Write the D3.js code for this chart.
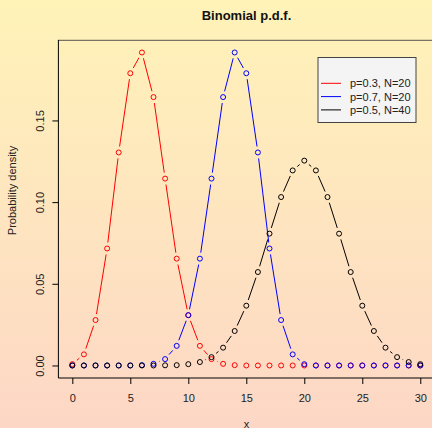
<!DOCTYPE html>
<html>
<head>
<meta charset="utf-8">
<script src="https://cdn.jsdelivr.net/npm/d3@7"></script>
<style>
  html, body { margin: 0; padding: 0; background: #fff; }
  svg { display: block; font-family: "Liberation Sans", Arial, Helvetica, sans-serif; }
</style>
</head>
<body>
<svg id="chart" width="432" height="428"></svg>
<script>
// Binomial probabilities for k = 0..30
const xs = d3.range(0, 31);
const seriesNames = ["p=0.3, N=20", "p=0.7, N=20", "p=0.5, N=40"];
const seriesColors = ["#ff0000", "#0000ff", "#000000"];
const red = [0.0008, 0.0068, 0.0278, 0.0716, 0.1304, 0.1789, 0.1916, 0.1643, 0.1144, 0.0654,
             0.0308, 0.0120, 0.0039, 0.0010, 0.0002, 0.0000, 0.0000, 0.0000, 0.0000, 0.0000,
             0.0000, 0.0000, 0.0000, 0.0000, 0.0000, 0.0000, 0.0000, 0.0000, 0.0000, 0.0000, 0.0000];
const blue = [0.0000, 0.0000, 0.0000, 0.0000, 0.0000, 0.0000, 0.0002, 0.0010, 0.0039, 0.0120,
              0.0308, 0.0654, 0.1144, 0.1643, 0.1916, 0.1789, 0.1304, 0.0716, 0.0278, 0.0068,
              0.0008, 0.0000, 0.0000, 0.0000, 0.0000, 0.0000, 0.0000, 0.0000, 0.0000, 0.0000, 0.0000];
const black = [0.0000, 0.0000, 0.0000, 0.0000, 0.0000, 0.0000, 0.0000, 0.0000, 0.0001, 0.0002,
               0.0008, 0.0021, 0.0051, 0.0109, 0.0211, 0.0366, 0.0572, 0.0807, 0.1031, 0.1194,
               0.1254, 0.1194, 0.1031, 0.0807, 0.0572, 0.0366, 0.0211, 0.0109, 0.0051, 0.0021, 0.0008];
const xTicks = [0, 5, 10, 15, 20, 25, 30];
const yTicks = [0, 0.05, 0.10, 0.15];

const allSeries = [red, blue, black];

const svg = d3.select("#chart");
const W = 432, H = 428;

// Page background gradient
const defs = svg.append("defs");
const grad = defs.append("linearGradient").attr("id", "bg").attr("x1", 0).attr("y1", 0).attr("x2", 0).attr("y2", 1);
grad.append("stop").attr("offset", "0%").attr("stop-color", "#fff3b8");
grad.append("stop").attr("offset", "50%").attr("stop-color", "#fee5bf");
grad.append("stop").attr("offset", "100%").attr("stop-color", "#fdd7c6");
svg.append("rect").attr("width", W).attr("height", H).attr("fill", "url(#bg)");

const plotLeft = 58.4, plotRight = 434.2, plotTop = 39.9, plotBottom = 378;
const x = d3.scaleLinear().domain([-1.2, 31.2]).range([plotLeft, plotRight]);
const y = d3.scaleLinear().domain([-0.00767, 0.19931]).range([plotBottom, plotTop]);

// Plot frame: grey top edge, black axis lines
svg.append("line").attr("x1", plotLeft).attr("x2", plotRight).attr("y1", plotTop + 0.5).attr("y2", plotTop + 0.5)
  .attr("stroke", "#7a7262").attr("stroke-width", 1.2);
svg.append("line").attr("x1", plotLeft).attr("x2", plotLeft).attr("y1", plotTop).attr("y2", plotBottom)
  .attr("stroke", "#000").attr("stroke-width", 1);
svg.append("line").attr("x1", plotLeft).attr("x2", plotRight).attr("y1", plotBottom).attr("y2", plotBottom)
  .attr("stroke", "#000").attr("stroke-width", 1);

// Axes
const xAxis = svg.append("g").attr("transform", `translate(0,${plotBottom})`)
  .call(d3.axisBottom(x).tickValues(xTicks).tickSize(6).tickFormat(d3.format("d")));
xAxis.select(".domain").remove();
xAxis.selectAll("text").attr("y", 24).attr("dy", 0).attr("font-size", 11)
  .attr("font-family", "Liberation Sans, Arial, sans-serif").attr("fill", "#222");
xAxis.selectAll("line").attr("stroke", "#000");

const yAxis = svg.append("g").attr("transform", `translate(${plotLeft},0)`)
  .call(d3.axisLeft(y).tickValues(yTicks).tickSize(6).tickFormat(d3.format(".2f")));
yAxis.select(".domain").remove();
yAxis.selectAll("text").attr("x", null).attr("dy", 0)
  .attr("transform", "translate(-14,0) rotate(-90)")
  .attr("text-anchor", "middle").attr("font-size", 11)
  .attr("font-family", "Liberation Sans, Arial, sans-serif").attr("fill", "#222");
yAxis.selectAll("line").attr("stroke", "#000");

// Titles
svg.append("text").attr("x", 246.5).attr("y", 19.5).attr("text-anchor", "middle")
  .attr("font-size", 13).attr("font-weight", "bold").attr("fill", "#111").text("Binomial p.d.f.");
svg.append("text").attr("x", 246.5).attr("y", 427.5).attr("text-anchor", "middle")
  .attr("font-size", 11).attr("fill", "#222").text("x");
svg.append("text").attr("transform", "translate(16,190.5) rotate(-90)").attr("text-anchor", "middle")
  .attr("font-size", 11).attr("fill", "#222").text("Probability density");

// Series: broken connecting segments plus open circles
const gap = 6, r = 2.5;
allSeries.forEach((vals, si) => {
  const pts = xs.map((k, i) => [x(k), y(vals[i])]);
  const g = svg.append("g");
  for (let i = 0; i < pts.length - 1; i++) {
    const [x1, y1] = pts[i], [x2, y2] = pts[i + 1];
    const dx = x2 - x1, dy = y2 - y1, d = Math.hypot(dx, dy);
    if (d <= 2 * gap) continue;
    const ux = dx / d, uy = dy / d;
    g.append("line")
      .attr("x1", x1 + ux * gap).attr("y1", y1 + uy * gap)
      .attr("x2", x2 - ux * gap).attr("y2", y2 - uy * gap)
      .attr("stroke", seriesColors[si]).attr("stroke-width", 1);
  }
  g.selectAll("circle").data(pts).join("circle")
    .attr("cx", d => d[0]).attr("cy", d => d[1]).attr("r", r)
    .attr("fill", "none").attr("stroke", seriesColors[si]).attr("stroke-width", 1);
});

// Legend
const lg = svg.append("g");
lg.append("rect").attr("x", 318).attr("y", 57.5).attr("width", 98).attr("height", 65)
  .attr("fill", "#f4f4f4").attr("stroke", "#444").attr("stroke-width", 1);
seriesNames.forEach((name, i) => {
  const yy = 83.3 + i * 13.3;
  lg.append("line").attr("x1", 321).attr("x2", 341).attr("y1", yy).attr("y2", yy)
    .attr("stroke", seriesColors[i]).attr("stroke-width", 1);
  lg.append("text").attr("x", 350).attr("y", yy + 4).attr("font-size", 11)
    .attr("fill", "#222").text(name);
});
</script>
</body>
</html>
